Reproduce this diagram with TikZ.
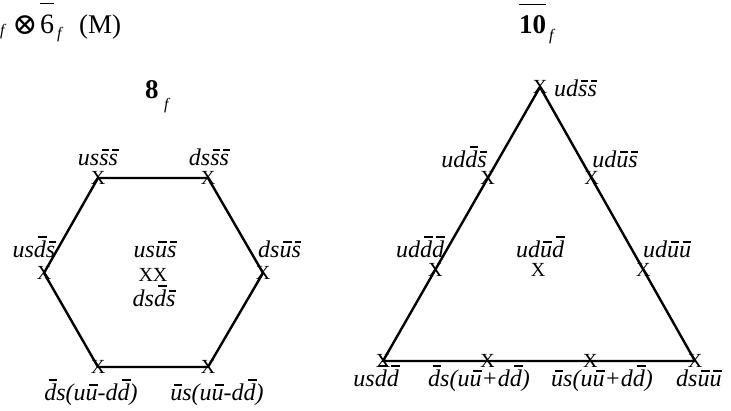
\documentclass[tikz,border=0pt]{standalone}
\usepackage{fontspec}
\setmainfont{Liberation Serif}
\newfontfamily\symfont{DejaVu Serif}
\newcommand\ob[1]{\setbox0\hbox{#1}\rlap{\kern\dimexpr0.14\wd0+0.16\ht0\relax\raisebox{\dimexpr\ht0+2.6pt\relax}{\rule{0.72\wd0}{1.9pt}}}\box0}
\tikzset{
  lbl/.style={font=\fontsize{24}{28}\selectfont\itshape, inner sep=0},
  mk/.style={font=\fontsize{20}{22}\selectfont, inner sep=0},
  edge/.style={line width=2.4pt, line join=round},
  ttl/.style={inner sep=0, anchor=base west},
  sub/.style={inner sep=0, anchor=base west, font=\fontsize{16}{17}\selectfont\itshape},
}
\begin{document}
\begin{tikzpicture}[x=1pt,y=-1pt]
\useasboundingbox (0,0) rectangle (731,410);
\clip (0,0) rectangle (731,410);

% ---- title top left
\node[sub] (tf1) at (0,35) {f};
\node[inner sep=0, font=\fontsize{30}{32}\symfont] (tox) at (25,25) {⊗};
\node[ttl, font=\fontsize{28}{30}\selectfont] (tsix) at (40,33) {6};
\draw[line width=1pt] ([yshift=11pt]tsix.north west) -- ([yshift=11pt]tsix.north east);
\node[sub] (tf2) at (57,38) {f};
\node[ttl, font=\fontsize{27}{30}\selectfont] (tM) at (79,33) {(M)};

% ---- title 8_f
\node[ttl, font=\fontsize{27}{30}\selectfont\bfseries] (t8) at (145,98) {8};
\node[sub] (t8f) at (164,109) {f};

% ---- title 10bar_f
\node[ttl, font=\fontsize{27}{30}\selectfont\bfseries] (t10) at (519,33) {10};
\draw[line width=1pt] ([yshift=10pt]t10.north west) -- ([yshift=10pt]t10.north east);
\node[sub] (t10f) at (549,40) {f};

% ---- hexagon (8_f)
\node[mk] (h1) at (98,178) {X};
\node[mk] (h2) at (208,178) {X};
\node[mk] (h3) at (263,273) {X};
\node[mk] (h4) at (208,367) {X};
\node[mk] (h5) at (98,367) {X};
\node[mk] (h6) at (44,273) {X};
\node[mk] (hc) at (153,275) {XX};
\draw[edge] (h1.center) -- (h2.center) -- (h3.center) -- (h4.center) -- (h5.center) -- (h6.center) -- cycle;

\node[lbl, anchor=base] (lh1) at (98,165) {us\ob{s}\ob{s}};
\node[lbl, anchor=base] (lh2) at (209,165) {ds\ob{s}\ob{s}};
\node[lbl, anchor=base] (lh6) at (34,257) {us\ob{d}\ob{s}};
\node[lbl, anchor=base west] (lh3) at (258,257) {ds\ob{u}\ob{s}};
\node[lbl, anchor=base] (lhc1) at (155,257) {us\ob{u}\ob{s}};
\node[lbl, anchor=base] (lhc2) at (154,306) {ds\ob{d}\ob{s}};
\node[lbl, anchor=base] (lh5) at (91,400) {\ob{d}s(u\ob{u}-d\ob{d})};
\node[lbl, anchor=base] (lh4) at (217,400) {\ob{u}s(u\ob{u}-d\ob{d})};

% ---- triangle (10bar_f)
\node[mk] (t1) at (540,87) {X};
\node[mk] (t2) at (695,361) {X};
\node[mk] (t3) at (383,361) {X};
\node[mk] (tl1) at (487.7,178.3) {X};
\node[mk] (tl2) at (435.3,269.7) {X};
\node[mk] (tr1) at (591.7,178.3) {X};
\node[mk] (tr2) at (643.3,269.7) {X};
\node[mk] (tb1) at (487.7,361) {X};
\node[mk] (tb2) at (590.3,361) {X};
\node[mk] (tc) at (538,270) {X};
\draw[edge] (t1.center) -- (t2.center) -- (t3.center) -- cycle;

\node[lbl, anchor=base west] (lt1) at (554,96) {ud\ob{s}\ob{s}};
\node[lbl, anchor=base] (ltl1) at (464,167) {ud\ob{d}\ob{s}};
\node[lbl, anchor=base] (ltr1) at (615,167) {ud\ob{u}\ob{s}};
\node[lbl, anchor=base] (ltl2) at (420,257) {ud\ob{d}\ob{d}};
\node[lbl, anchor=base] (ltc) at (540,257) {ud\ob{u}\ob{d}};
\node[lbl, anchor=base west] (ltr2) at (643,257) {ud\ob{u}\ob{u}};
\node[lbl, anchor=base east] (lt3) at (399,386) {us\ob{d}\ob{d}};
\node[lbl, anchor=base] (ltb1) at (479,386) {\ob{d}s(u\ob{u}+d\ob{d})};
\node[lbl, anchor=base] (ltb2) at (602,386) {\ob{u}s(u\ob{u}+d\ob{d})};
\node[lbl, anchor=base west] (lt2) at (676,386) {ds\ob{u}\ob{u}};
\end{tikzpicture}
\end{document}
